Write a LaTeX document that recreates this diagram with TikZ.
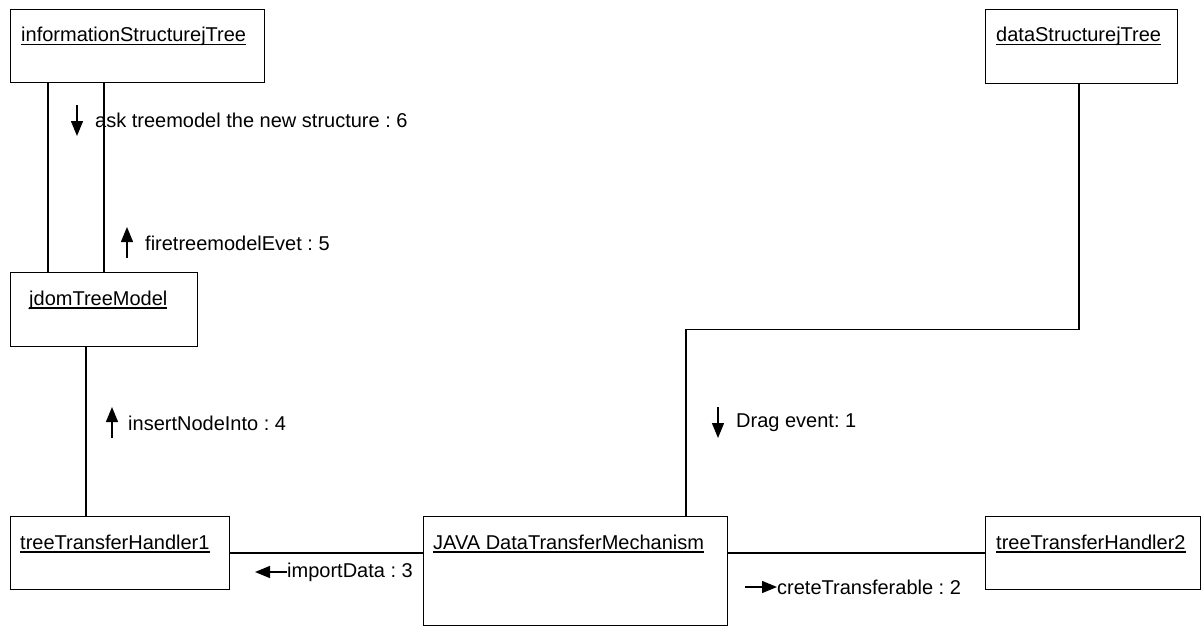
\documentclass[tikz,border=0pt]{standalone}
\usepackage{fontspec}
\setmainfont{Liberation Sans}
\usetikzlibrary{arrows.meta,calc}
\frenchspacing
% object name, underlined with a rule at a fixed depth
\newcommand\objname[1]{\setbox0\hbox{#1}\rlap{\rule[-3.5pt]{\wd0}{1.1pt}}\box0}

\begin{document}
\begin{tikzpicture}[x=1pt,y=-1pt,
  objbox/.style={draw,line width=1.3pt,inner sep=0pt,anchor=north west},
  ttl/.style={anchor=base west,inner sep=0pt,font=\fontsize{20}{24}\selectfont},
  msg/.style={anchor=west,inner sep=0pt,font=\fontsize{20}{24}\selectfont},
  link/.style={line width=1.3pt},
  flow/.style={line width=1.4pt,-{Triangle[length=15pt,width=12pt]}}]
\useasboundingbox (0,0) rectangle (1202,626);

% objects
\node[objbox,minimum width=254pt,minimum height=73pt] (info) at (10,9) {};
\node[objbox,minimum width=192pt,minimum height=74pt] (data) at (985,9) {};
\node[objbox,minimum width=187pt,minimum height=74pt] (jdom) at (10,272) {};
\node[objbox,minimum width=219pt,minimum height=73pt] (tth1) at (10,516) {};
\node[objbox,minimum width=304pt,minimum height=109pt] (java) at (423,516) {};
\node[objbox,minimum width=215pt,minimum height=73pt] (tth2) at (985,516) {};

% object names
\node[ttl] (tinfo) at ($(info.north west)+(11,33)$) {\objname{informationStructurejTree}};
\node[ttl] (tdata) at ($(data.north west)+(11,33)$) {\objname{dataStructurejTree}};
\node[ttl] (tjdom) at ($(jdom.north west)+(19,33)$) {\objname{jdomTreeModel}};
\node[ttl] (ttth1) at ($(tth1.north west)+(10,33)$) {\objname{treeTransferHandler1}};
\node[ttl] (tjava) at ($(java.north west)+(10,33)$) {\objname{JAVA DataTransferMechanism}};
\node[ttl] (ttth2) at ($(tth2.north west)+(11,33)$) {\objname{treeTransferHandler2}};

% links
\draw[link] ($(info.south west)+(38,0)$) -- ($(jdom.north west)+(38,0)$);
\draw[link] ($(info.south west)+(94,0)$) -- ($(jdom.north west)+(94,0)$);
\draw[link] ($(jdom.south west)+(76,0)$) -- ($(tth1.north west)+(76,0)$);
\draw[link] ($(tth1.north east)+(0,37)$) -- ($(java.north west)+(0,37)$);
\draw[link] ($(java.north east)+(0,37)$) -- ($(tth2.north west)+(0,37)$);
\draw[link] ($(data.south west)+(94,0)$) -- ++(0,245) -| ($(java.north west)+(263,0)$);

% messages
\node[msg] (m6) at (95,120) {ask treemodel the new structure : 6};
\draw[flow] ($(m6.west)+(-18,-15)$) -- ++(0,31);
\node[msg] (m5) at (145,243) {firetreemodelEvet : 5};
\draw[flow] ($(m5.west)+(-18,15)$) -- ++(0,-31);
\node[msg] (m4) at (128,423) {insertNodeInto : 4};
\draw[flow] ($(m4.west)+(-16,15)$) -- ++(0,-31);
\node[msg] (m1) at (736,423) {Drag event: 1};
\draw[flow] ($(m1.west)+(-18,-16)$) -- ++(0,31);
\node[msg] (m3) at (287,572) {importData : 3};
\draw[flow] (m3.west) -- ++(-32,0);
\node[msg] (m2) at (777,587) {creteTransferable : 2};
\draw[flow] ($(m2.west)+(-32,0)$) -- (m2.west);
\end{tikzpicture}
\end{document}
